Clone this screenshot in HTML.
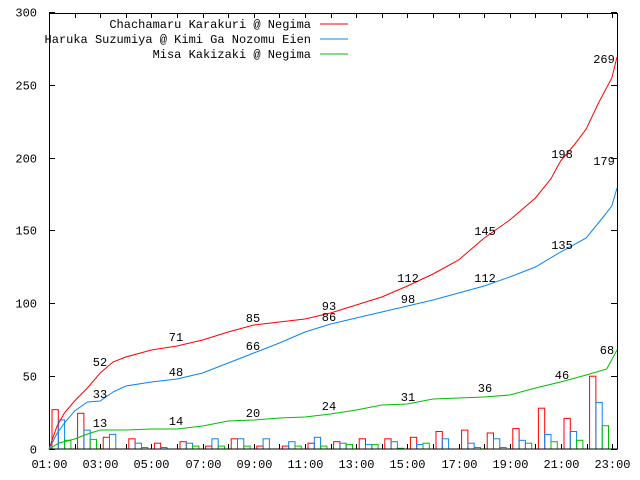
<!DOCTYPE html>
<html><head><meta charset="utf-8"><style>
html,body{margin:0;padding:0;background:#fff;}
svg{display:block;}
text{font-family:"Liberation Mono","DejaVu Sans Mono",monospace;font-size:12px;fill:#000;}
</style></head><body>
<svg id="s" width="640" height="480" xmlns="http://www.w3.org/2000/svg">
<rect x="0" y="0" width="640" height="480" fill="#fff"/>
<g id="bars" fill="none" stroke-width="1"></g>
<g id="ticks" stroke="#000" stroke-width="1"></g>
<rect x="49.5" y="13.5" width="568" height="435.5" fill="none" stroke="#000" stroke-width="1"/>
<polyline fill="none" stroke="#ff0000" stroke-width="1" points="49,449 56.7,427 64.4,413 74.6,401 87.4,388 100.2,373 113,362 125.8,357 151.4,350 177,346 202.6,340 228.2,332 253.8,325 279.4,322 305,319 330.6,313 356.2,305 381.8,297 407.4,286 433,274 458.6,260 484.2,238 509.8,220 535.4,198 550.8,179 560.6,161 573.4,146 586.2,129 599,102 611.8,78 617,57"/>
<polyline fill="none" stroke="#0a84f0" stroke-width="1" points="49,449 56.7,434 64.4,423 74.6,411 87.4,402 100.2,401 113,392 125.8,386 151.4,382 177,379 202.6,373 228.2,363 253.8,353 279.4,343 305,332 330.6,324 356.2,318 381.8,312 407.4,306 433,300 458.6,293 484.2,286 509.8,277 535.4,267 560.6,252 586.2,238 601.6,219 611.8,206 617,188"/>
<polyline fill="none" stroke="#00c000" stroke-width="1" points="49,449 59,443 74.6,439 87.4,434 100.2,430 125.8,430 151.4,429 177,429 202.6,426 228.2,421 253.8,420 279.4,418 305,417 330.6,414 356.2,410 381.8,405 407.4,404 433,399 458.6,398 484.2,397 509.8,395 535.4,388 560.6,382 586.2,375 606.7,369 617,350"/>
<g id="labels"></g>
<g text-anchor="end">
<text x="311" y="28">Chachamaru Karakuri @ Negima</text>
<text x="311" y="43">Haruka Suzumiya @ Kimi Ga Nozomu Eien</text>
<text x="311" y="58">Misa Kakizaki @ Negima</text>
</g>
<line x1="320" y1="24" x2="348" y2="24" stroke="#ff0000"/>
<line x1="320" y1="39" x2="348" y2="39" stroke="#0a84f0"/>
<line x1="320" y1="54" x2="348" y2="54" stroke="#00c000"/>
</svg>
<script>
var NS="http://www.w3.org/2000/svg",s=document.getElementById('s');
function el(p,t,a,txt){var e=document.createElementNS(NS,t);for(var k in a)e.setAttribute(k,a[k]);if(txt!=null)e.textContent=txt;p.appendChild(e);return e;}
function X(h){return 49+(h-1)*25.6;}function Y(v){return 449-v*1.4567;}
var tk=document.getElementById('ticks'),lb=document.getElementById('labels');
for(var v=0;v<=300;v+=50){var y=Math.round(Y(v))+0.5;el(tk,'line',{x1:49,y1:y,x2:55,y2:y});el(tk,'line',{x1:617,y1:y,x2:611,y2:y});
el(lb,'text',{x:37,y:y+4,'text-anchor':'end','font-size':'11'},String(v));}
for(var h=1;h<=23.3;h++){var x=Math.round(X(h))+0.5;el(tk,'line',{x1:x,y1:449,x2:x,y2:444});el(tk,'line',{x1:x,y1:13,x2:x,y2:18});
if(h%2==1){el(lb,'text',{x:x,y:468,'text-anchor':'middle'},(h<10?'0':'')+h+':00');}}
var R=[27,24.5,8,7,4,5,2,7,2,2,4,5,7,7,8,12,13,11,14,28,21,50],
B=[20,13,10,4,1,4,7,7,7,5,8,4,3,5,3,7,4,7,6,10,12,32],
G=[6,6.6,0,1,0,2,2,2,0,2,2,3,3,0.5,4,0,1,1,4,5,6,16];
var bg=document.getElementById('bars');
for(var i=0;i<22;i++){var x0=52+i*25.6;[[R,'#ff0000'],[B,'#0a84f0'],[G,'#00c000']].forEach(function(p,j){var v=p[0][i];if(v<=0)return;var hh=v*1.4567;
el(bg,'rect',{x:(x0+j*6.3).toFixed(1),y:(449-hh).toFixed(1),width:6.3,height:hh.toFixed(1),stroke:p[1]});});}
var L=[[100,366,'52'],[176,341,'71'],[253,322,'85'],[329,310,'93'],[408,282,'112'],[485,235,'145'],[562,158,'198'],[604,63,'269'],
[100,398,'33'],[176,376,'48'],[253,350,'66'],[329,321,'86'],[408,303,'98'],[485,282,'112'],[562,249,'135'],[604,165,'179'],
[100,427,'13'],[176,425,'14'],[253,417,'20'],[329,410,'24'],[408,401,'31'],[485,392,'36'],[562,379,'46'],[607,354,'68']];
L.forEach(function(a){el(lb,'text',{x:a[0],y:a[1],'text-anchor':'middle','font-size':'11'},a[2]);});
</script>
</body></html>
